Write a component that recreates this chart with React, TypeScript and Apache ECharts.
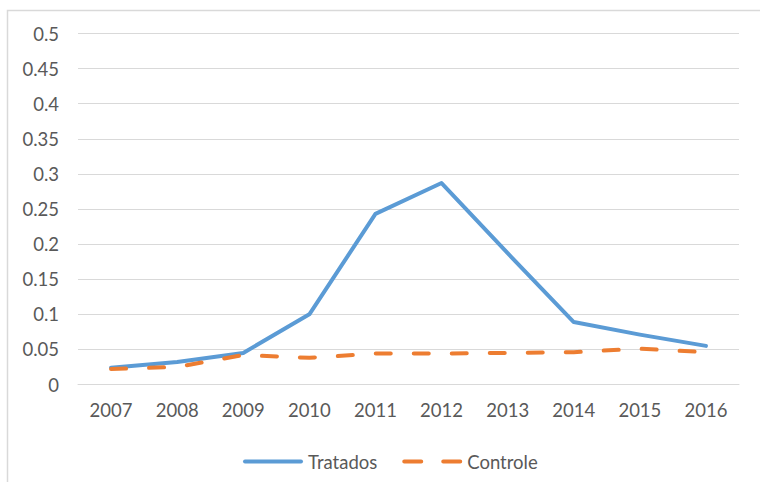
import React, { useEffect, useRef } from "react";
import * as echarts from "echarts";

const years = ["2007", "2008", "2009", "2010", "2011", "2012", "2013", "2014", "2015", "2016"];
const tratados = [0.024, 0.032, 0.045, 0.1, 0.243, 0.287, 0.187, 0.089, 0.071, 0.055];
const controle = [0.022, 0.025, 0.042, 0.038, 0.044, 0.044, 0.045, 0.046, 0.051, 0.046];

const FONT = "Lato";
const TEXT = "#595959";
const FS = 18.5;

export default function App() {
  const ref = useRef<HTMLDivElement>(null);
  useEffect(() => {
    if (!ref.current) return;
    const chart = echarts.init(ref.current, null, { renderer: "svg" });
    chart.setOption({
      animation: false,
      backgroundColor: "#ffffff",
      textStyle: { fontFamily: FONT },
      graphic: [
        {
          type: "rect",
          shape: { x: 7.5, y: 10.5, width: 800, height: 600 },
          style: { fill: "none", stroke: "#d9d9d9", lineWidth: 1.5 },
          silent: true,
        },
      ],
      grid: { left: 78, right: 21, top: 33.5, bottom: 97.5, containLabel: false },
      legend: {
        left: 238,
        top: 447,
        itemWidth: 60,
        itemHeight: 4,
        itemGap: 25,
        textStyle: { color: TEXT, fontSize: FS, fontFamily: FONT },
        data: [
          { name: "Tratados", icon: "path://M2,0H58A2,2 0 0 1 58,4H2A2,2 0 0 1 2,0Z" },
          {
            name: "Controle",
            icon: "path://M2,0H19A2,2 0 0 1 19,4H2A2,2 0 0 1 2,0Z M41,0H58A2,2 0 0 1 58,4H41A2,2 0 0 1 41,0Z M0,2H0.01M60,2H60.01",
          },
        ],
      },
      xAxis: {
        type: "category",
        data: years,
        boundaryGap: true,
        axisLine: { show: true, lineStyle: { color: "#d9d9d9", width: 1 } },
        axisTick: { show: false },
        axisLabel: { color: TEXT, fontSize: FS, fontFamily: FONT, margin: 16 },
      },
      yAxis: {
        type: "value",
        min: 0,
        max: 0.5,
        interval: 0.05,
        axisLine: { show: false },
        axisTick: { show: false },
        splitLine: { lineStyle: { color: "#d9d9d9", width: 1 } },
        axisLabel: {
          color: TEXT,
          fontSize: FS,
          fontFamily: FONT,
          margin: 19,
          formatter: (v: number) => String(parseFloat(v.toFixed(2))),
        },
      },
      series: [
        {
          name: "Tratados",
          type: "line",
          data: tratados,
          symbol: "none",
          lineStyle: { color: "#5b9bd5", width: 4, cap: "round", join: "round" },
          itemStyle: { color: "#5b9bd5" },
        },
        {
          name: "Controle",
          type: "line",
          data: controle,
          symbol: "none",
          lineStyle: { color: "#ed7d31", width: 4, type: [15, 23], cap: "round", join: "round" },
          itemStyle: { color: "#ed7d31" },
        },
      ],
    });
    return () => chart.dispose();
  }, []);
  return <div ref={ref} style={{ width: 760, height: 482, position: "absolute", left: 0, top: 0 }} />;
}
